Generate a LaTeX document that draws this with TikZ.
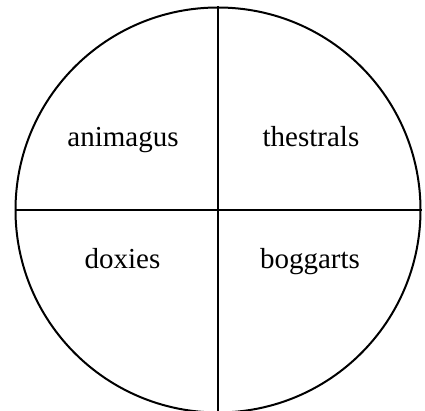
\documentclass[tikz,border=0pt]{standalone}
\usepackage{fontspec}
\setmainfont{Liberation Serif}
\begin{document}
\begin{tikzpicture}[x=1pt,y=-1pt,
  ring/.style={draw=black,line width=2pt,circle,inner sep=0pt,minimum size=405pt},
  divider/.style={draw=black,line width=2pt},
  lbl/.style={anchor=base,inner sep=0pt,font=\fontsize{29}{34}\selectfont}]
\useasboundingbox (0,0) rectangle (425,411);
\node[ring] (c) at (218,210) {};
\draw[divider] (c.north) -- (c.south);
\draw[divider] (c.west) -- (c.east);
\node[lbl] (a) at (123,147) {animagus};
\node[lbl] (t) at (311,147) {thestrals};
\node[lbl] (d) at (122.5,269) {doxies};
\node[lbl] (b) at (310,269) {boggarts};
\end{tikzpicture}
\end{document}
